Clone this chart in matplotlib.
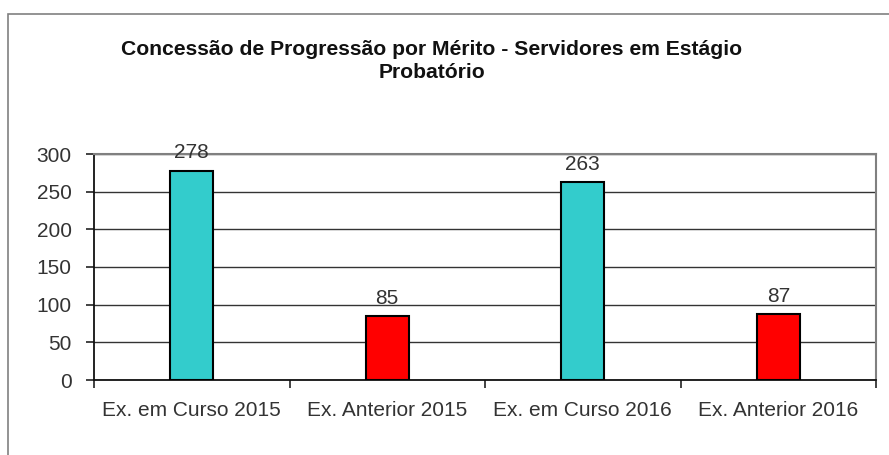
import matplotlib.pyplot as plt
from matplotlib.patches import Rectangle

plt.rcParams['font.family'] = ['Liberation Sans', 'DejaVu Sans']

categories = ['Ex. em Curso 2015', 'Ex. Anterior 2015', 'Ex. em Curso 2016', 'Ex. Anterior 2016']
values = [278, 85, 263, 87]
colors = ['#33CCCC', '#FF0000', '#33CCCC', '#FF0000']
title = 'Concessão de Progressão por Mérito - Servidores em Estágio\nProbatório'

fig = plt.figure(figsize=(8.89, 4.55), dpi=100)
W, H = 889, 455

# outer chart border (cut off at right and bottom like the screenshot)
fig.patches.append(Rectangle((8 / W, -0.05), 1.1, 1 - 14 / H + 0.05, transform=fig.transFigure,
                             fill=False, edgecolor='#808080', linewidth=1.2))

ax = fig.add_axes([94 / W, 1 - 380 / H, (876 - 94) / W, (380 - 154) / H])
x = range(len(categories))
bars = ax.bar(x, values, width=0.22, color=colors, edgecolor='black', linewidth=1.5, zorder=3)

ax.set_xlim(-0.5, len(categories) - 0.5)
ax.set_ylim(0, 300)
ax.set_yticks(range(0, 301, 50))
ax.yaxis.grid(True, color='#333333', linewidth=1.0, zorder=0)
ax.set_axisbelow(True)

# category labels between boundary ticks
ax.set_xticks([i - 0.5 for i in range(len(categories) + 1)])
ax.set_xticklabels([])
ax.set_xticks(list(x), minor=True)
ax.set_xticklabels(categories, minor=True)
ax.tick_params(axis='x', which='minor', length=0, pad=15, labelsize=15, labelcolor='#333333')
ax.tick_params(axis='x', which='major', length=6, width=1.2, color='#222222')
ax.tick_params(axis='y', length=6, width=1.2, labelsize=15, pad=10, color='#222222', labelcolor='#333333')

ax.spines['left'].set_color('#111111')
ax.spines['left'].set_linewidth(1.3)
ax.spines['bottom'].set_color('#111111')
ax.spines['bottom'].set_linewidth(1.3)
ax.spines['right'].set_color('#808080')
ax.spines['right'].set_linewidth(1.5)
ax.spines['top'].set_color('#808080')
ax.spines['top'].set_linewidth(1.5)

for b, v in zip(bars, values):
    ax.annotate(str(v), (b.get_x() + b.get_width() / 2, v), xytext=(0, 6),
                textcoords='offset points', ha='center', va='bottom', fontsize=15,
                color='#333333', annotation_clip=False)

fig.text(432 / W, 1 - 61 / H, title, ha='center', va='center', fontsize=15.2,
         fontweight='bold', linespacing=1.3, color='#111111')

fig.savefig('out.png', dpi=100)
